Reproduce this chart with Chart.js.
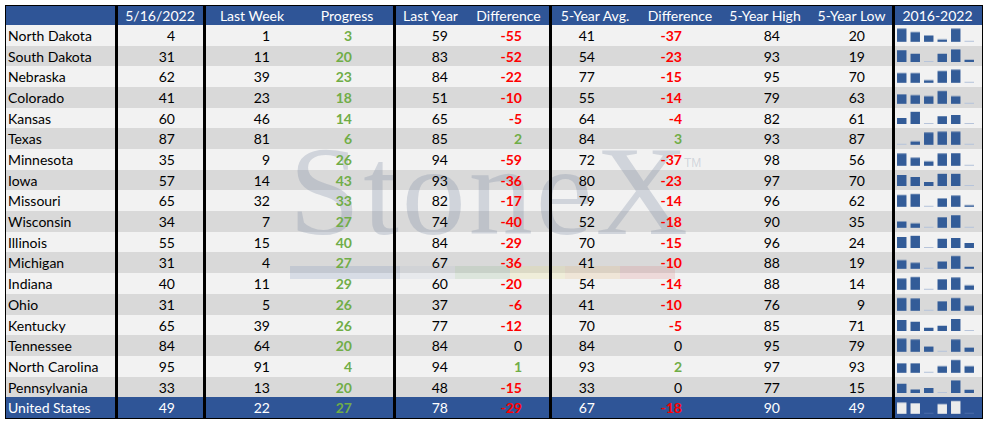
<!DOCTYPE html>
<html>
<head>
<meta charset="utf-8">
<script src="https://cdn.jsdelivr.net/npm/chart.js@4.4.0/dist/chart.umd.min.js"></script>
<style>
  html, body { margin: 0; padding: 0; background: #ffffff; }
  #board { position: relative; width: 985px; height: 421px; overflow: hidden; font-family: Lato, "Open Sans", sans-serif; font-size: 14px; }
  .band { position: absolute; left: 6px; width: 976px; }
  .cell { position: absolute; white-space: nowrap; line-height: 1; }
  .vline { position: absolute; background: #000; width: 2px; }
  .spark { position: absolute; }
  #watermark { position: absolute; left: 289px; top: 118px; font-family: "Liberation Serif", "DejaVu Serif", serif; font-size: 128px; color: rgba(130, 142, 165, 0.3); letter-spacing: 3px; }
  #tm { position: absolute; left: 684px; top: 156px; font-family: "Liberation Sans", sans-serif; font-size: 12px; color: rgba(130, 142, 165, 0.3); }
  .stripe { position: absolute; top: 266px; height: 13px; }
</style>
</head>
<body>
<div id="board"></div>
<script>
const states = ["North Dakota", "South Dakota", "Nebraska", "Colorado", "Kansas", "Texas", "Minnesota", "Iowa", "Missouri", "Wisconsin", "Illinois", "Michigan", "Indiana", "Ohio", "Kentucky", "Tennessee", "North Carolina", "Pennsylvania", "United States"];
const headers = ["", "5/16/2022", "Last Week", "Progress", "Last Year", "Difference", "5-Year Avg.", "Difference", "5-Year High", "5-Year Low", "2016-2022"];

const current = [4, 31, 62, 41, 60, 87, 35, 57, 65, 34, 55, 31, 40, 31, 65, 84, 95, 33, 49];
const lastWeek = [1, 11, 39, 23, 46, 81, 9, 14, 32, 7, 15, 4, 11, 5, 39, 64, 91, 13, 22];
const progress = [3, 20, 23, 18, 14, 6, 26, 43, 33, 27, 40, 27, 29, 26, 26, 20, 4, 20, 27];
const lastYear = [59, 83, 84, 51, 65, 85, 94, 93, 82, 74, 84, 67, 60, 37, 77, 84, 94, 48, 78];
const diffLastYear = [-55, -52, -22, -10, -5, 2, -59, -36, -17, -40, -29, -36, -20, -6, -12, 0, 1, -15, -29];
const fiveYearAvg = [41, 54, 77, 55, 64, 84, 72, 80, 79, 52, 70, 41, 54, 41, 70, 84, 93, 33, 67];
const diffFiveYear = [-37, -23, -15, -14, -4, 3, -37, -23, -14, -18, -15, -10, -14, -10, -5, 0, 2, 0, -18];
const fiveYearHigh = [84, 93, 95, 79, 82, 93, 98, 97, 96, 90, 96, 88, 88, 76, 85, 95, 97, 77, 90];
const fiveYearLow = [20, 19, 70, 63, 61, 87, 56, 70, 62, 35, 24, 19, 14, 9, 71, 79, 93, 15, 49];

// sparkline bars, relative height (0 = row minimum)
const sparkYears = ["2017", "2018", "2019", "2020", "2021", "2022"];
const sparkValues = [
  [100, 74, 47, 18, 100, 0],
  [92, 66, 0, 66, 100, 18],
  [74, 74, 21, 89, 100, 0],
  [71, 66, 58, 97, 58, 0],
  [47, 97, 0, 61, 71, 0],
  [0, 26, 92, 100, 100, 0],
  [92, 61, 34, 92, 95, 0],
  [87, 71, 32, 97, 97, 0],
  [89, 97, 0, 63, 84, 13],
  [47, 34, 0, 79, 95, 0],
  [87, 97, 0, 74, 79, 39],
  [66, 45, 0, 55, 97, 16],
  [84, 97, 0, 79, 92, 34],
  [97, 92, 0, 71, 97, 37],
  [87, 74, 26, 42, 95, 0],
  [100, 92, 39, 0, 92, 32],
  [71, 71, 0, 50, 97, 50],
  [74, 29, 39, 0, 100, 26],
  [84, 79, 0, 74, 97, 0],
];

const BLUE = "#2f5597";
const GREEN = "#70ad47";
const RED = "#ff0000";

const board = document.getElementById("board");
const colEdges = [6, 116, 204, 300, 394, 467, 550, 640, 720, 810, 893, 982];
const numRight = [null, 175, 270, 352, 448, 522, 595, 682, 780, 865];
const thickAt = [116, 204, 394, 550, 893];
const headTop = 6;
const headH = 19;
const rowH = 20.68;

function addDiv(cls, style, text) {
  const el = document.createElement("div");
  el.className = cls;
  Object.assign(el.style, style);
  if (text !== undefined) el.textContent = text;
  board.appendChild(el);
  return el;
}

function signColor(v) {
  if (v > 0) return GREEN;
  if (v < 0) return RED;
  return null;
}

// bands
addDiv("band", { top: headTop + "px", height: headH + "px", background: BLUE });
states.forEach((s, i) => {
  const isTotal = i === states.length - 1;
  const bg = isTotal ? BLUE : (i % 2 === 0 ? "#f2f2f2" : "#d9d9d9");
  addDiv("band", { top: (headTop + headH + i * rowH) + "px", height: (rowH + 0.5) + "px", background: bg });
});

// watermark logo
const wm = addDiv("", {}, "StoneX");
wm.id = "watermark";
const tm = addDiv("", {}, "TM");
tm.id = "tm";
[[290, 400, "rgba(120,140,180,0.22)"], [400, 455, "rgba(170,180,200,0.15)"], [455, 510, "rgba(120,170,120,0.18)"],
 [510, 565, "rgba(230,220,120,0.2)"], [565, 620, "rgba(230,180,110,0.2)"], [620, 675, "rgba(220,120,120,0.2)"]]
  .forEach(([a, b, c]) => addDiv("stripe", { left: a + "px", width: (b - a) + "px", background: c }));

// headers
headers.forEach((h, c) => {
  if (!h) return;
  const left = colEdges[c];
  const w = colEdges[c + 1] - left;
  addDiv("cell", { left: left + "px", width: w + "px", textAlign: "center", top: (headTop + 3) + "px", color: "#ffffff" }, h);
});

// body cells
const columns = [current, lastWeek, progress, lastYear, diffLastYear, fiveYearAvg, diffFiveYear, fiveYearHigh, fiveYearLow];
states.forEach((s, i) => {
  const isTotal = i === states.length - 1;
  const top = headTop + headH + i * rowH + 4;
  const baseColor = isTotal ? "#ffffff" : "#000000";
  addDiv("cell", { left: "8px", top: top + "px", color: baseColor }, s);
  columns.forEach((arr, k) => {
    const c = k + 1;
    const v = arr[i];
    let color = baseColor;
    let weight = "normal";
    if (c === 3) { color = GREEN; weight = "bold"; }
    if (c === 5 || c === 7) {
      const sc = signColor(v);
      if (sc) { color = sc; weight = "bold"; }
    }
    addDiv("cell", { right: (985 - numRight[c]) + "px", top: top + "px", color, fontWeight: weight }, String(v));
  });
});

// separators and border
thickAt.forEach((x) => addDiv("vline", { left: (x - 1) + "px", top: "5px", height: "414px", width: "2.5px" }));
addDiv("", { position: "absolute", left: "5px", top: "5px", width: "976px", height: "412px", border: "1.5px solid #000" });

// sparklines
function sparkChart(row) {
  const isTotal = row === states.length - 1;
  const holder = addDiv("spark", { left: "893px", width: "89px", top: (headTop + headH + row * rowH) + "px", height: rowH + "px" });
  const canvas = document.createElement("canvas");
  holder.appendChild(canvas);
  const values = sparkValues[row];
  const fill = isTotal ? "#ececec" : "#335c98";
  const flat = isTotal ? "#4a6aa8" : "#b7c4da";
  new Chart(canvas, {
    type: "bar",
    data: {
      labels: sparkYears,
      datasets: [{
        data: values,
        backgroundColor: values.map((v) => (v === 0 ? flat : fill)),
        barPercentage: 0.7,
        categoryPercentage: 1,
        minBarLength: 1,
      }],
    },
    options: {
      responsive: true,
      maintainAspectRatio: false,
      animation: false,
      layout: { padding: { left: 2, right: 6, top: 3.3, bottom: 4.6 } },
      plugins: { legend: { display: false }, tooltip: { enabled: false } },
      scales: {
        x: { display: false },
        y: { display: false, min: 0, max: 100 },
      },
    },
  });
}

sparkValues.forEach((v, i) => sparkChart(i));
</script>
</body>
</html>
